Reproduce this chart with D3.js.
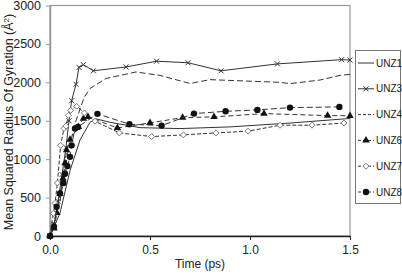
<!DOCTYPE html>
<html>
<head>
<meta charset="utf-8">
<script src="https://cdn.jsdelivr.net/npm/d3@7"></script>
<style>
  body { margin: 0; background: #fff; }
  text { font-family: "Liberation Sans", Arial, sans-serif; fill: #222; }
</style>
</head>
<body>
<svg width="402" height="274"></svg>
<script>
// values: [time (ps), Rg^2 (A^2)]
let unz1 = [[0,0],[0.05,300],[0.1,850],[0.15,1250],[0.2,1480],[0.23,1525],[0.3,1480],[0.45,1410],[0.65,1398],[0.9,1420],[1.2,1470],[1.5,1530]];
let unz3 = [[0,0],[0.02,150],[0.04,450],[0.06,800],[0.08,1150],[0.095,1500],[0.108,1760],[0.13,1975],[0.145,2195],[0.167,2230],[0.217,2150],[0.38,2200],[0.533,2275],[0.69,2255],[0.855,2150],[1.137,2240],[1.458,2295],[1.5,2290]];
let unz4 = [[0,0],[0.05,450],[0.09,1100],[0.13,1500],[0.17,1800],[0.2,1920],[0.28,2050],[0.43,2135],[0.55,2090],[0.7,1985],[0.8,2035],[0.9,2025],[1.15,2000],[1.2,1983],[1.35,2030],[1.45,2090],[1.5,2104]];
let unz6 = [[0,0],[0.02,100],[0.035,300],[0.05,550],[0.065,750],[0.075,950],[0.083,1117],[0.1,1256],[0.142,1420],[0.167,1528],[0.19,1550],[0.337,1407],[0.5,1472],[0.663,1541],[0.82,1550],[1.07,1593],[1.388,1567],[1.5,1565]];
let unz7 = [[0,0],[0.017,295],[0.025,425],[0.037,690],[0.053,1180],[0.07,1400],[0.08,1430],[0.092,1570],[0.103,1636],[0.133,1688],[0.172,1602],[0.225,1494],[0.347,1342],[0.508,1294],[0.667,1316],[0.83,1342],[0.99,1364],[1.15,1442],[1.31,1442],[1.47,1470]];
let unz8 = [[0,0],[0.02,120],[0.033,380],[0.05,555],[0.067,690],[0.075,810],[0.087,910],[0.1,1030],[0.108,1180],[0.125,1400],[0.14,1420],[0.237,1590],[0.397,1455],[0.558,1437],[0.72,1593],[0.878,1623],[1.037,1641],[1.2,1671],[1.447,1680]];

let seriesNames = ["UNZ1", "UNZ3", "UNZ4", "UNZ6", "UNZ7", "UNZ8"];
let xTicks = [0, 0.5, 1.0, 1.5];
let yTicks = [0, 500, 1000, 1500, 2000, 2500, 3000];

let series = [
  { name: "UNZ1", data: unz1, dash: null, marker: null },
  { name: "UNZ3", data: unz3, dash: null, marker: "cross" },
  { name: "UNZ4", data: unz4, dash: "6,3", marker: null },
  { name: "UNZ6", data: unz6, dash: "5,3", marker: "triangle" },
  { name: "UNZ7", data: unz7, dash: "4,2", marker: "diamond" },
  { name: "UNZ8", data: unz8, dash: "6,3", marker: "circle" }
];

let svg = d3.select("svg");
let x = d3.scaleLinear().domain([0, 1.5]).range([50, 350]);
let y = d3.scaleLinear().domain([0, 3000]).range([236, 5.5]);

let g = svg.append("g");

// frame
g.append("rect")
  .attr("x", 50).attr("y", 5.5)
  .attr("width", 300).attr("height", 230.5)
  .attr("fill", "none").attr("stroke", "#999").attr("stroke-width", 1.2);

// y axis
let yAxis = g.append("g")
  .attr("transform", "translate(50,0)")
  .call(d3.axisLeft(y).tickValues(yTicks).tickFormat(d3.format("d")).tickSize(4).tickSizeOuter(0).tickPadding(5));
yAxis.select(".domain").attr("stroke", "#999").attr("stroke-width", 1.5);
yAxis.selectAll(".tick line").attr("stroke", "#999");
yAxis.selectAll("text").style("font-size", "12.5px").attr("fill", "#222");

// x axis
let xAxis = g.append("g")
  .attr("transform", "translate(0,236)")
  .call(d3.axisBottom(x).tickValues(xTicks).tickFormat(d3.format(".1f")).tickSize(4).tickSizeOuter(0).tickPadding(5));
xAxis.select(".domain").attr("stroke", "#222").attr("stroke-width", 1.6);
xAxis.selectAll(".tick line").attr("stroke", "#222");
xAxis.selectAll("text").style("font-size", "12px").attr("fill", "#222");

svg.append("text")
  .attr("x", 200).attr("y", 268)
  .attr("text-anchor", "middle")
  .style("font-size", "12px")
  .text("Time (ps)");

svg.append("text")
  .attr("transform", "translate(12.5,122) rotate(-90)")
  .attr("text-anchor", "middle")
  .style("font-size", "12.5px")
  .html("Mean Squared Radius Of Gyration (Å<tspan dy='-4' font-size='8px'>2</tspan><tspan dy='4'>)</tspan>");

let line = d3.line().x(d => x(d[0])).y(d => y(d[1]));

function drawMarker(sel, type) {
  if (type === "cross") {
    sel.append("path").attr("d", "M-2.5,-2.5L2.5,2.5M-2.5,2.5L2.5,-2.5")
      .attr("stroke", "#333").attr("stroke-width", 1).attr("fill", "none");
  } else if (type === "triangle") {
    sel.append("path").attr("d", d3.symbol(d3.symbolTriangle, 24)())
      .attr("fill", "#111");
  } else if (type === "diamond") {
    sel.append("path").attr("d", "M0,-3L3,0L0,3L-3,0Z")
      .attr("fill", "#fff").attr("stroke", "#777").attr("stroke-width", 1);
  } else if (type === "circle") {
    sel.append("circle").attr("r", 3.2).attr("fill", "#111");
  }
}

series.forEach(s => {
  g.append("path")
    .datum(s.data)
    .attr("d", line)
    .attr("fill", "none")
    .attr("stroke", "#333")
    .attr("stroke-width", 1)
    .attr("stroke-dasharray", s.dash);

  if (s.marker) {
    g.selectAll(".m-" + s.name)
      .data(s.data)
      .enter().append("g")
      .attr("class", "m-" + s.name)
      .attr("transform", d => `translate(${x(d[0])},${y(d[1])})`)
      .each(function () { drawMarker(d3.select(this), s.marker); });
  }
});

// legend
let legend = svg.append("g");
legend.append("rect")
  .attr("x", 355.5).attr("y", 50.5)
  .attr("width", 45).attr("height", 153)
  .attr("fill", "#fff").attr("stroke", "#777").attr("stroke-width", 1);

let ly = d3.scalePoint().domain(seriesNames).range([63, 192]);

series.forEach(s => {
  let row = legend.append("g").attr("transform", `translate(0,${ly(s.name)})`);
  row.append("line")
    .attr("x1", 358).attr("x2", 374)
    .attr("stroke", "#333").attr("stroke-width", 1)
    .attr("stroke-dasharray", s.dash ? "3,2" : null);
  if (s.marker) {
    let m = row.append("g").attr("transform", "translate(366,0)");
    drawMarker(m, s.marker);
  }
  row.append("text")
    .attr("x", 376).attr("y", 3.5)
    .style("font-size", "10px")
    .attr("fill", "#333")
    .text(s.name);
});
</script>
</body>
</html>
